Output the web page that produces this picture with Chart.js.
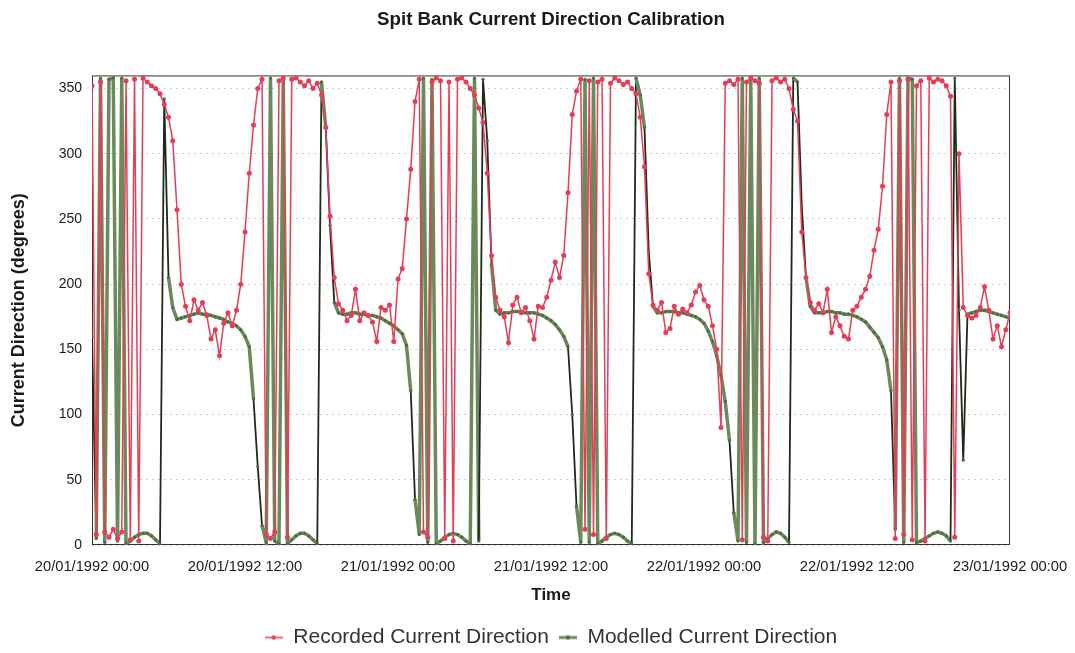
<!DOCTYPE html>
<html>
<head>
<meta charset="utf-8">
<title>Spit Bank Current Direction Calibration</title>
<script src="https://cdn.jsdelivr.net/npm/chart.js@4.4.1/dist/chart.umd.min.js"></script>
<style>
    html, body { margin: 0; padding: 0; background: #fff; }
    canvas { display: block; }
</style>
</head>
<body>
<canvas id="chart-direction" width="1075" height="653"></canvas>
<script>
// Spit Bank current direction, 20/01/1992 00:00 - 23/01/1992 00:00, one sample every 20 minutes
const tickLabels = [
    "20/01/1992 00:00", "20/01/1992 12:00", "21/01/1992 00:00", "21/01/1992 12:00",
    "22/01/1992 00:00", "22/01/1992 12:00", "23/01/1992 00:00",
];
const yTicks = [0, 50, 100, 150, 200, 250, 300, 350];

// degrees
const recorded = [
    352, 8, 355, 10, 6, 12, 5, 10, 356, 4, 357, 3,
    358, 355, 352, 350, 346, 338, 328, 310, 257, 200, 183, 172,
    188, 180, 186, 176, 158, 165, 145, 170, 178, 168, 180, 200,
    240, 285, 322, 350, 357, 8, 5, 10, 356, 358, 6, 357,
    358, 355, 352, 356, 350, 354, 345, 320, 252, 205, 185, 180,
    172, 176, 196, 172, 178, 176, 171, 156, 182, 180, 184, 156,
    204, 212, 250, 288, 340, 357, 10, 6, 355, 358, 356, 5,
    355, 3, 357, 358, 355, 350, 345, 335, 324, 285, 222, 190,
    180, 175, 155, 184, 190, 178, 182, 172, 158, 183, 182, 190,
    203, 217, 205, 222, 270, 330, 348, 357, 12, 356, 8, 355,
    357, 5, 354, 358, 356, 353, 355, 350, 346, 328, 290, 208,
    184, 180, 186, 163, 166, 183, 177, 181, 178, 184, 194, 199,
    188, 183, 168, 150, 90, 354, 356, 353, 357, 4, 355, 358,
    356, 354, 6, 3, 356, 358, 355, 357, 350, 334, 325, 240,
    205, 186, 180, 185, 178, 196, 163, 175, 168, 160, 158, 180,
    183, 190, 196, 206, 226, 242, 275, 330, 355, 5, 356, 8,
    357, 4, 352, 356, 3, 358, 355, 357, 356, 352, 344, 6,
    300, 182, 176, 174, 176, 182, 198, 180, 158, 168, 152, 165,
    178,
];

const modelled = [
    160, 5, 358, 2, 357, 358, 3, 358, 1, 3, 6, 8,
    9, 9, 7, 4, 1, 342, 205, 182, 173, 174, 175, 176,
    177, 178, 177, 177, 176, 175, 174, 173, 171, 170, 168, 165,
    160, 152, 112, 60, 15, 2, 358, 3, 1, 357, 1, 4,
    7, 9, 9, 7, 4, 1, 355, 320, 245, 186, 178, 177,
    177, 178, 178, 177, 177, 176, 176, 175, 174, 172, 170, 168,
    165, 162, 153, 118, 35, 8, 358, 2, 357, 1, 3, 6,
    8, 9, 8, 6, 3, 1, 358, 3, 357, 310, 215, 180,
    177, 178, 178, 179, 179, 179, 178, 178, 178, 177, 176, 174,
    172, 169, 165, 160, 152, 100, 30, 2, 357, 2, 358, 1,
    3, 6, 8, 9, 8, 6, 3, 1, 358, 345, 320, 225,
    183, 178, 178, 179, 179, 179, 178, 178, 177, 176, 175, 173,
    170, 164, 156, 145, 130, 110, 80, 25, 3, 358, 2, 357,
    1, 358, 2, 5, 8, 10, 9, 6, 2, 358, 355, 260,
    205, 183, 178, 178, 178, 179, 179, 178, 178, 177, 177, 176,
    175, 173, 171, 167, 163, 159, 152, 142, 118, 12, 358, 2,
    358, 357, 2, 3, 5, 7, 9, 10, 9, 7, 3, 358,
    180, 65, 177, 178, 179, 180, 180, 179, 178, 177, 176, 175,
    174,
];

// hours after 20/01/1992 00:00
const hours = recorded.map((v, i) => i / 3);

const fontFamily = "'Liberation Sans', Arial, Helvetica, sans-serif";
const recordedColour = "#e63d55";
const modelledColour = "#6b8a5c";

// turning segments of the modelled line show up dark in the original
function darkSegment(ctx) {
    const a = ctx.p0.parsed.y;
    const b = ctx.p1.parsed.y;
    const d = Math.abs(b - a);
    if (d > 40 && d < 300) return true;
    const next = modelled[ctx.p1DataIndex + 1];
    return b - a > 300 && next !== undefined && next < b - 2 && next > 100;
}

function legendSymbol(colour, width, dot) {
    const c = document.createElement("canvas");
    c.width = 18;
    c.height = 8;
    const g = c.getContext("2d");
    g.strokeStyle = colour;
    g.lineWidth = width;
    g.beginPath();
    g.moveTo(0, 4);
    g.lineTo(18, 4);
    g.stroke();
    g.fillStyle = dot;
    g.beginPath();
    g.arc(9, 4, 2.2, 0, Math.PI * 2);
    g.fill();
    return c;
}
const symbols = [
    legendSymbol(recordedColour, 1.5, recordedColour),
    legendSymbol(modelledColour, 3, "#4f6b44"),
];

// box round the plot area
const plotFrame = {
    id: "plotFrame",
    beforeDatasetsDraw(chart) {
        const { ctx, chartArea } = chart;
        ctx.save();
        ctx.strokeStyle = "#333";
        ctx.lineWidth = 1;
        ctx.strokeRect(chartArea.left + 0.5, chartArea.top + 0.5, chartArea.width - 1, chartArea.height - 1);
        ctx.restore();
    },
};

const dataChartDirection = {
    datasets: [
        {
            label: "Recorded Current Direction",
            data: recorded.map((v, i) => ({ x: hours[i], y: v })),
            borderColor: recordedColour,
            backgroundColor: recordedColour,
            borderWidth: 1.5,
            pointRadius: 2.5,
            pointBorderWidth: 0,
            pointBackgroundColor: recordedColour,
            tension: 0,
        },
        {
            label: "Modelled Current Direction",
            data: modelled.map((v, i) => ({ x: hours[i], y: v })),
            borderColor: modelledColour,
            backgroundColor: modelledColour,
            borderWidth: 3.5,
            pointRadius: 1.6,
            pointBorderWidth: 0,
            pointBackgroundColor: "#4f6b44",
            tension: 0,
            segment: {
                borderColor: ctx => darkSegment(ctx) ? "#1f2a1a" : undefined,
                borderWidth: ctx => darkSegment(ctx) ? 1.8 : undefined,
            },
        },
    ],
};

const configDirection = {
    type: "line",
    data: dataChartDirection,
    options: {
        responsive: false,
        animation: false,
        devicePixelRatio: 1,
        layout: {
            padding: { left: 0, right: 65, top: 0, bottom: -5 },
        },
        plugins: {
            title: {
                display: true,
                fullSize: false,
                text: "Spit Bank Current Direction Calibration",
                color: "#1a1a1a",
                font: { family: fontFamily, size: 18.7, weight: "bold" },
                padding: { top: 9, bottom: 44 },
            },
            legend: {
                display: true,
                fullSize: false,
                position: "bottom",
                labels: {
                    usePointStyle: true,
                    pointStyleWidth: 18,
                    padding: 10,
                    color: "#333",
                    font: { family: fontFamily, size: 21 },
                    generateLabels: chart =>
                        Chart.defaults.plugins.legend.labels.generateLabels(chart)
                            .map((item, i) => ({ ...item, pointStyle: symbols[i] })),
                },
            },
            tooltip: { enabled: false },
        },
        scales: {
            x: {
                type: "linear",
                min: 0,
                max: 72,
                afterBuildTicks: scale => {
                    scale.ticks = tickLabels.map((t, i) => ({ value: i * 12 }));
                },
                afterFit: scale => {
                    scale.height = 72;
                    // end labels may hang past the plot box, as in the original
                    scale.paddingLeft = 0;
                    scale.paddingRight = 0;
                },
                ticks: {
                    callback: value => tickLabels[value / 12],
                    color: "#1a1a1a",
                    font: { family: fontFamily, size: 14.7 },
                    padding: 13,
                    maxRotation: 0,
                    autoSkip: false,
                },
                grid: { display: false, drawTicks: false },
                border: { display: false },
                title: {
                    display: true,
                    text: "Time",
                    color: "#1a1a1a",
                    font: { family: fontFamily, size: 17, weight: "bold" },
                    padding: { top: 11, bottom: 11 },
                },
            },
            y: {
                min: 0,
                max: 360,
                afterBuildTicks: scale => {
                    scale.ticks = yTicks.map(v => ({ value: v }));
                },
                afterFit: scale => {
                    scale.width = 92;
                },
                ticks: {
                    color: "#1a1a1a",
                    font: { family: fontFamily, size: 14 },
                    padding: 10,
                },
                grid: { color: "#d0d0d0", lineWidth: 1, drawTicks: false },
                border: { display: false, dash: [2, 4] },
                title: {
                    display: true,
                    text: "Current Direction (degrees)",
                    color: "#1a1a1a",
                    font: { family: fontFamily, size: 18, weight: "bold" },
                    padding: { top: 8, bottom: 4 },
                },
            },
        },
    },
    plugins: [plotFrame],
};

new Chart(document.getElementById("chart-direction"), configDirection);
</script>
</body>
</html>
